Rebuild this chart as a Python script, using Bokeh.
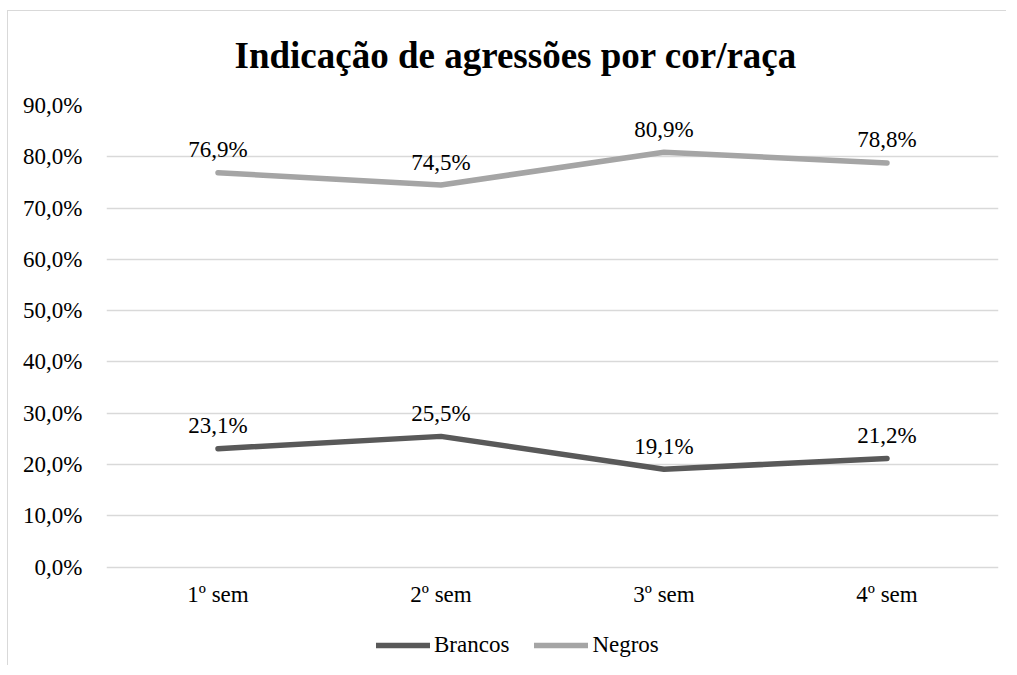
from bokeh.plotting import figure
from bokeh.models import (ColumnDataSource, FactorRange, LabelSet, Legend, LegendItem,
                          CustomJSTickFormatter, FixedTicker, Range1d)
from bokeh.core.properties import value
from bokeh.embed import file_html
from bokeh.resources import INLINE

categories = ["1º sem", "2º sem", "3º sem", "4º sem"]
brancos = [23.1, 25.5, 19.1, 21.2]
negros = [76.9, 74.5, 80.9, 78.8]
y_ticks = [0, 10, 20, 30, 40, 50, 60, 70, 80, 90]
title_text = "Indicação de agressões por cor/raça"

FONT = "Liberation Serif"
FS = "23px"
DARK = "#595959"
LIGHT = "#a5a5a5"
Y_MIN = -17.8   # room under the 0 line for the legend (layout only)
Y_MAX = 90


def fmt(v):
    return ("%.1f" % v).replace(".", ",") + "%"


src_b = ColumnDataSource(dict(x=categories, y=brancos, label=[fmt(v) for v in brancos]))
src_n = ColumnDataSource(dict(x=categories, y=negros, label=[fmt(v) for v in negros]))

p = figure(width=1006, height=665,
           x_range=FactorRange(*categories, range_padding=0),
           y_range=Range1d(Y_MIN, Y_MAX),
           output_backend="svg", toolbar_location=None,
           min_border_left=105, min_border_right=9, min_border_top=104, min_border_bottom=8)

p.border_fill_color = None
p.background_fill_color = None
p.styles = {
    "border-left": "1px solid transparent",
    "border-top": "1px solid transparent",
    "background-color": "#ffffff",
    "background-image": "linear-gradient(#d9d9d9, #d9d9d9), linear-gradient(#d9d9d9, #d9d9d9)",
    "background-size": "1px 100%, 100% 1px",
    "background-position": "6px 9px, 6px 9px",
    "background-repeat": "no-repeat",
}
p.outline_line_color = None

p.title.text = title_text
p.title.text_font = FONT
p.title.text_font_style = "bold"
p.title.text_font_size = "37px"
p.title.text_color = "#000000"
p.title.align = "left"
p.title.offset = 128
p.title.standoff = 60

r_b = p.line("x", "y", source=src_b, line_color=DARK, line_width=5.5,
             line_cap="round", line_join="round")
r_n = p.line("x", "y", source=src_n, line_color=LIGHT, line_width=5.5,
             line_cap="round", line_join="round")

for s in (src_b, src_n):
    p.add_layout(LabelSet(x="x", y="y", text="label", source=s,
                          text_align="center", text_baseline="middle", y_offset=23,
                          text_font=value(FONT), text_font_size=value(FS),
                          text_color="#000000"))

p.yaxis.ticker = FixedTicker(ticks=y_ticks)
p.yaxis.formatter = CustomJSTickFormatter(code="return tick.toFixed(1).replace('.', ',') + '%';")
for ax in (p.xaxis, p.yaxis):
    ax.axis_line_color = None
    ax.major_tick_line_color = None
    ax.minor_tick_line_color = None
    ax.major_label_text_font = FONT
    ax.major_label_text_font_size = FS
    ax.major_label_text_color = "#000000"
p.yaxis.major_label_standoff = 18
p.xaxis.major_label_standoff = 9
p.xaxis.fixed_location = 0

p.xgrid.grid_line_color = None
p.ygrid.grid_line_color = "#d9d9d9"
p.ygrid.grid_line_width = 1.3
p.ygrid.ticker = FixedTicker(ticks=y_ticks)

legend = Legend(items=[LegendItem(label="Brancos", renderers=[r_b]),
                       LegendItem(label="Negros", renderers=[r_n])],
                orientation="horizontal", location=(270, 0),
                glyph_width=54, glyph_height=20, label_height=20,
                label_standoff=4, spacing=25,
                padding=0, margin=0, border_line_alpha=0, background_fill_alpha=0,
                label_text_font=FONT, label_text_font_size=FS, label_text_color="#000000")
p.add_layout(legend, "center")

open("out.html", "w").write(file_html(p, INLINE))
